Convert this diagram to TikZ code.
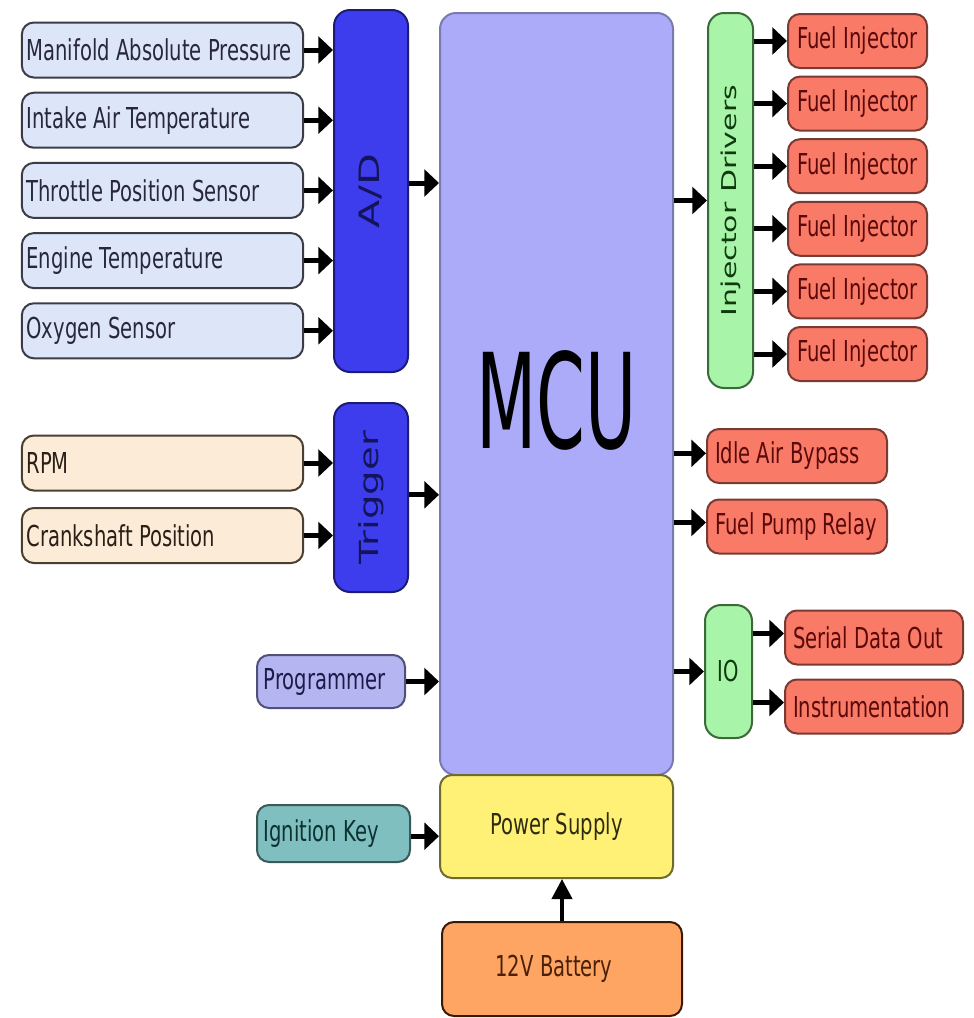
\documentclass[tikz,border=0pt]{standalone}
\usepackage{fontspec}
\setmainfont{DejaVu Sans}[FakeStretch=0.68]
\newfontfamily\rotfont{DejaVu Sans}
\newfontfamily\mcufont{DejaVu Sans}[FakeStretch=0.53]
\usetikzlibrary{arrows.meta}

\definecolor{sensorfill}{RGB}{220,230,248}
\definecolor{sensordraw}{RGB}{60,60,70}
\definecolor{sensortext}{RGB}{40,40,58}
\definecolor{rpmfill}{RGB}{252,235,215}
\definecolor{rpmdraw}{RGB}{74,64,48}
\definecolor{rpmtext}{RGB}{42,32,24}
\definecolor{adfill}{RGB}{61,61,238}
\definecolor{addraw}{RGB}{28,28,120}
\definecolor{adtext}{RGB}{20,20,90}
\definecolor{mcufill}{RGB}{171,171,249}
\definecolor{mcudraw}{RGB}{122,122,176}
\definecolor{progfill}{RGB}{181,181,242}
\definecolor{progdraw}{RGB}{80,80,122}
\definecolor{progtext}{RGB}{28,28,72}
\definecolor{keyfill}{RGB}{127,191,191}
\definecolor{keydraw}{RGB}{58,90,90}
\definecolor{keytext}{RGB}{12,50,50}
\definecolor{psufill}{RGB}{255,241,117}
\definecolor{psudraw}{RGB}{110,106,48}
\definecolor{psutext}{RGB}{46,44,16}
\definecolor{batfill}{RGB}{255,165,99}
\definecolor{batdraw}{RGB}{58,24,8}
\definecolor{battext}{RGB}{74,32,8}
\definecolor{drvfill}{RGB}{168,244,168}
\definecolor{drvdraw}{RGB}{58,106,58}
\definecolor{drvtext}{RGB}{14,58,14}
\definecolor{injfill}{RGB}{249,122,102}
\definecolor{injdraw}{RGB}{122,58,52}
\definecolor{injtext}{RGB}{90,10,10}

\tikzset{every picture/.style={line width=0.75pt}}
\tikzset{
  blk/.style={draw, line width=1.5pt, rounded corners=9pt, inner sep=0pt,
    font=\fontsize{21.6}{24}\selectfont},
  sensor/.style={blk, fill=sensorfill, draw=sensordraw, text=sensortext,
    minimum height=41.25pt, text width=204pt, inner xsep=3.5pt, align=flush left},
  crank/.style={sensor, fill=rpmfill, draw=rpmdraw, text=rpmtext},
  leftbox/.style={blk, text width=#1, inner xsep=5pt, align=flush left},
  conv/.style={blk, fill=adfill, draw=addraw, text=adtext, rounded corners=12pt,
    minimum width=55.5pt},
  drvbox/.style={blk, fill=drvfill, draw=drvdraw, text=drvtext, rounded corners=12pt},
  inj/.style={blk, fill=injfill, draw=injdraw, text=injtext,
    minimum width=104.25pt, minimum height=40.5pt},
  outbox/.style={inj, text width=#1, inner xsep=6pt, align=flush left},
  arr/.style={line width=3.75pt, -{Triangle[length=11pt,width=20pt]}},
  uparr/.style={line width=3pt, -{Triangle[length=15pt,width=15pt]}},
}
\newcommand{\vtext}[2]{\rotatebox{90}{\scalebox{1}[0.68]{\rotfont\fontsize{#1}{#1}\selectfont #2}}}

\begin{document}
\begin{tikzpicture}[x=0.75pt,y=0.75pt,yscale=-1,xscale=1]
    \useasboundingbox (0,0) rectangle (974,1018);
    \fill [white] (0,0) rectangle (974,1018);

    %Shape: MCU
    \node [blk, fill=mcufill, draw=mcudraw, rounded corners=12pt, minimum width=174.75pt,
      minimum height=571.5pt] (mcu) at (556.5,394)
      {\raisebox{-41pt}[0pt][0pt]{\mcufont\fontsize{99}{99}\selectfont MCU}};
    %Shape: Power Supply
    \node [blk, fill=psufill, draw=psudraw, text=psutext, minimum width=174.75pt,
      minimum height=77.25pt] (psu) at (556.5,826.5) {Power Supply};
    %Shape: 12V Battery
    \node [blk, fill=batfill, draw=batdraw, text=battext, minimum width=180pt,
      minimum height=70.5pt] (bat) at (562,969) {12V Battery\kern12pt};

    %Shape: A/D and Trigger
    \node [conv, minimum height=271.5pt] (ad) at (371,191) {\vtext{31}{A/D}};
    \node [conv, minimum height=141.75pt] (trig) at (371,497.5) {\vtext{29}{Trigger}};

    %Sensors into A/D
    \foreach \name/\txt [count=\i from 0] in {map/Manifold Absolute Pressure,
        iat/Intake Air Temperature, tps/Throttle Position Sensor,
        ect/Engine Temperature, ego/Oxygen Sensor} {
      \node [sensor] (\name) at (162.5,50+70.2*\i) {\txt};
      \draw [arr] (\name.east) -- (\name.east -| ad.west);
    }
    %Sensors into Trigger
    \node [crank] (rpm) at (162.5,463) {RPM};
    \node [crank] (cps) at (162.5,535.5) {Crankshaft Position};
    \draw [arr] (rpm.east) -- (rpm.east -| trig.west);
    \draw [arr] (cps.east) -- (cps.east -| trig.west);

    %Programmer and Ignition Key
    \node [leftbox=101pt, fill=progfill, draw=progdraw, text=progtext,
      minimum height=39.75pt] (prog) at (331,681.5) {Programmer};
    \node [leftbox=104.75pt, fill=keyfill, draw=keydraw, text=keytext,
      minimum height=42.75pt] (key) at (333.5,833.5) {Ignition Key};

    %Into MCU and Power Supply
    \draw [arr] ([yshift=-6pt]ad.east) -- ([yshift=-6pt]ad.east -| mcu.west);
    \draw [arr] ([yshift=-2pt]trig.east) -- ([yshift=-2pt]trig.east -| mcu.west);
    \draw [arr] (prog.east) -- (prog.east -| mcu.west);
    \draw [arr] ([yshift=2pt]key.east) -- ([yshift=2pt]key.east -| psu.west);
    \draw [uparr] (bat.north) -- (bat.north |- psu.south);

    %Shape: Injector Drivers and IO
    \node [drvbox, minimum width=33.75pt, minimum height=281.25pt] (drv) at (730.5,200.5)
      {\vtext{22.5}{Injector Drivers}};
    \node [drvbox, minimum width=35.25pt, minimum height=99.75pt] (io) at (728.5,671.5) {IO};

    %Fuel Injectors
    \foreach \i in {0,...,5} {
      \node [inj] (fi\i) at (857.5,41+62.6*\i) {Fuel Injector};
      \draw [arr] (fi\i.west -| drv.east) -- (fi\i.west);
    }

    %Outputs from MCU
    \node [outbox=123pt] (iab) at (797,456) {Idle Air Bypass};
    \node [outbox=123pt] (fpr) at (797,526.5) {Fuel Pump Relay};
    \node [outbox=121.5pt] (sdo) at (874,637.5) {Serial Data Out};
    \node [outbox=121.5pt] (ins) at (874,706.5) {Instrumentation};
    \draw [arr] (drv.west -| mcu.east) -- (drv.west);
    \draw [arr] ([yshift=-2pt]iab.west -| mcu.east) -- ([yshift=-2pt]iab.west);
    \draw [arr] ([yshift=-3pt]fpr.west -| mcu.east) -- ([yshift=-3pt]fpr.west);
    \draw [arr] (io.west -| mcu.east) -- (io.west);
    \draw [arr] ([yshift=-3pt]sdo.west -| io.east) -- ([yshift=-3pt]sdo.west);
    \draw [arr] ([yshift=-3pt]ins.west -| io.east) -- ([yshift=-3pt]ins.west);

\end{tikzpicture}
\end{document}
